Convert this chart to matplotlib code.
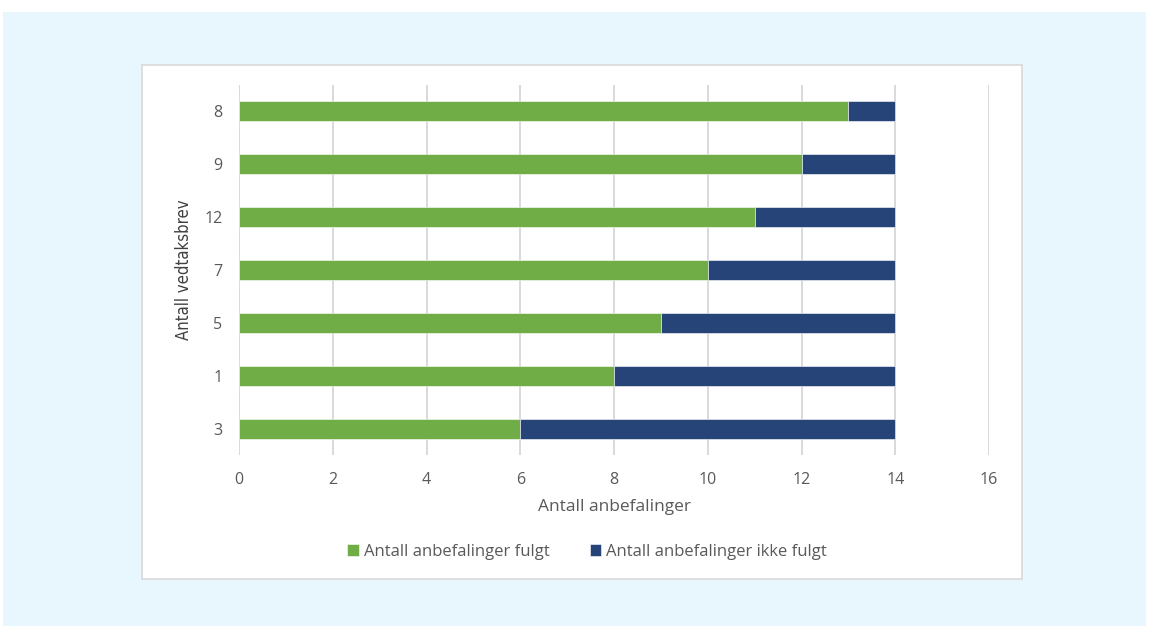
import matplotlib
matplotlib.use("Agg")
import matplotlib.pyplot as plt
from matplotlib.patches import Rectangle

plt.rcParams['font.family'] = ['Open Sans', 'DejaVu Sans']

# Antall vedtaksbrev per rad (nederst til øverst)
categories = ['3', '1', '5', '7', '12', '9', '8']
fulgt = [6, 8, 9, 10, 11, 12, 13]
ikke_fulgt = [8, 6, 5, 4, 3, 2, 1]

green = '#70AD47'
navy = '#264478'
grey_text = '#595959'

fig = plt.figure(figsize=(11.49, 6.26), dpi=100)
fig.patch.set_facecolor('white')

# lyseblå bakgrunn og hvitt diagramfelt
fig.patches.append(Rectangle((3 / 1149, 0), 1143 / 1149, 1 - 12 / 626,
                             transform=fig.transFigure, facecolor='#E8F6FD',
                             edgecolor='none', zorder=0))
fig.patches.append(Rectangle((142 / 1149, 1 - 579 / 626), 880 / 1149, 514 / 626,
                             transform=fig.transFigure, facecolor='white',
                             edgecolor='#D9D9D9', linewidth=1.2, zorder=1))

ax = fig.add_axes([239 / 1149, 1 - 455 / 626, 750 / 1149, 370 / 626])
ax.set_zorder(3)
ax.set_facecolor('none')

y = range(len(categories))
ax.barh(y, fulgt, height=0.38, color=green, edgecolor='white', linewidth=0.4,
        label='Antall anbefalinger fulgt', zorder=3)
ax.barh(y, ikke_fulgt, left=fulgt, height=0.38, color=navy, edgecolor='white',
        linewidth=0.4, label='Antall anbefalinger ikke fulgt', zorder=3)

ax.set_xlim(0, 16)
ax.set_ylim(-0.5, len(categories) - 0.5)
ax.set_xticks(range(0, 17, 2))
ax.set_yticks(list(y))
ax.set_yticklabels(categories)
ax.grid(axis='x', color='#D9D9D9', linewidth=1.4, zorder=0)
ax.set_axisbelow(True)
for s in ax.spines.values():
    s.set_visible(False)
ax.tick_params(axis='both', length=0, labelsize=11.5, labelcolor=grey_text)
ax.tick_params(axis='y', pad=12)
ax.tick_params(axis='x', pad=12)

ax.set_xlabel('Antall anbefalinger', fontsize=12.5, color=grey_text, labelpad=8)
ax.set_ylabel('Antall vedtaksbrev', fontsize=12, color='#404040', labelpad=8,
              family='DejaVu Sans', fontstretch='condensed')

leg = fig.legend(loc='center', bbox_to_anchor=(587 / 1149, 1 - 552 / 626), ncol=2,
                 frameon=False, handlelength=0.7, handleheight=0.7, handletextpad=0.3,
                 columnspacing=2.4, fontsize=12, labelcolor=grey_text)
leg.set_zorder(4)

fig.savefig('out.png', dpi=100)
